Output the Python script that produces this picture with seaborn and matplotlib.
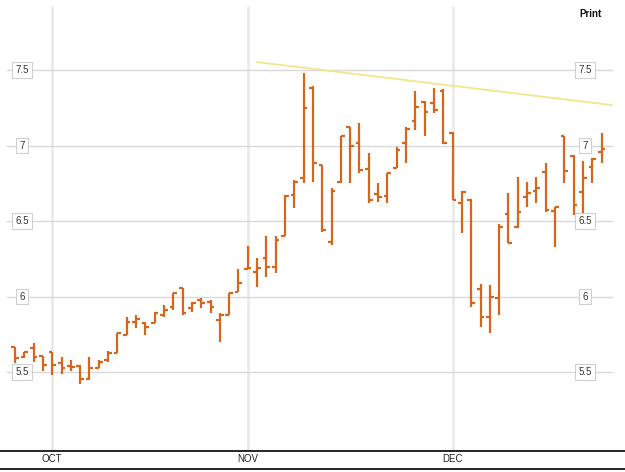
import numpy as np
import pandas as pd
import matplotlib
matplotlib.use("Agg")
import matplotlib.pyplot as plt
from matplotlib.lines import Line2D
import seaborn as sns

# daily OHLC (one entry per trading day)
opens = [5.667, 5.60, 5.657, 5.606, 5.635, 5.558, 5.54, 5.54, 5.452, 5.525,
         5.58, 5.628, 5.745, 5.833, 5.822, 5.822, 5.88, 5.932, 6.054, 5.922,
         5.977, 5.966, 5.844, 5.877, 6.032, 6.18, 6.164, 6.253, 6.197, 6.401,
         6.672, 6.783, 7.379, 6.871, 6.363, 6.76, 7.125, 7.019, 6.842, 6.679,
         6.666, 6.849, 7.019, 7.164, 7.29, 7.279, 7.363, 7.08, 6.617, 6.639,
         6.048, 5.866, 5.988, 6.546, 6.458, 6.661, 6.701, 6.827, 6.568, 7.063,
         6.93, 6.694, 6.86, 6.959]
highs = [5.667, 5.635, 5.694, 5.606, 5.635, 5.597, 5.58, 5.546, 5.597, 5.58,
         5.641, 5.756, 5.862, 5.877, 5.833, 5.90, 5.944, 6.025, 6.054, 5.966,
         5.988, 5.977, 5.889, 6.025, 6.18, 6.334, 6.253, 6.401, 6.401, 6.672,
         6.772, 7.478, 7.394, 6.871, 6.717, 7.063, 7.125, 7.151, 6.948, 6.75,
         6.82, 6.988, 7.125, 7.363, 7.297, 7.379, 7.372, 7.092, 6.701, 6.644,
         6.083, 6.076, 6.48, 6.688, 6.789, 6.76, 6.793, 6.886, 6.595, 7.063,
         6.937, 6.90, 6.915, 7.085]
lows = [5.558, 5.591, 5.568, 5.509, 5.48, 5.485, 5.509, 5.42, 5.447, 5.525,
        5.568, 5.628, 5.745, 5.789, 5.745, 5.822, 5.866, 5.911, 5.877, 5.90,
        5.922, 5.889, 5.701, 5.877, 6.032, 6.18, 6.065, 6.131, 6.158, 6.401,
        6.584, 6.75, 6.76, 6.429, 6.341, 6.754, 6.75, 6.816, 6.617, 6.628,
        6.617, 6.849, 6.882, 7.103, 7.063, 7.217, 7.01, 6.639, 6.419, 5.929,
        5.80, 5.76, 5.877, 6.352, 6.452, 6.591, 6.617, 6.562, 6.33, 6.75,
        6.54, 6.529, 6.75, 6.882]
closes = [5.591, 5.63, 5.60, 5.546, 5.546, 5.525, 5.531, 5.452, 5.525, 5.568,
          5.624, 5.756, 5.833, 5.849, 5.80, 5.889, 5.91, 6.021, 5.889, 5.955,
          5.955, 5.929, 5.877, 6.025, 6.091, 6.19, 6.187, 6.197, 6.374, 6.666,
          6.76, 7.246, 6.882, 6.44, 6.701, 7.063, 6.997, 6.838, 6.639, 6.661,
          6.816, 6.97, 7.107, 7.257, 7.224, 7.235, 7.015, 6.64, 6.694, 5.955,
          5.866, 5.999, 6.458, 6.356, 6.562, 6.683, 6.717, 6.573, 6.591, 6.833,
          6.606, 6.783, 6.909, 6.975]

month_pos = [4, 25, 47]
month_labels = ["OCT", "NOV", "DEC"]
y_ticks = [5.5, 6, 6.5, 7, 7.5]
y_tick_labels = ["5.5", "6", "6.5", "7", "7.5"]

# resistance line
trend_x = [26, 64.1]
trend_y = [7.553, 7.268]

df = pd.DataFrame({"day": np.arange(len(opens)), "open": opens, "high": highs,
                   "low": lows, "close": closes})
trend = pd.DataFrame({"day": trend_x, "price": trend_y})

sns.set_theme(style="white")
plt.rcParams["font.family"] = ["Liberation Sans", "DejaVu Sans"]

bar_col = "#d5661b"
fig = plt.figure(figsize=(6.25, 4.72), dpi=100)
ax = fig.add_axes([0, 21 / 472, 1, 451 / 472])
ax.set_xlim(-1.611, 65.52)
ax.set_ylim(4.977, 7.964)

# grid
for v in month_pos:
    ax.axvline(v, color="#e8e8e8", lw=1.8, ymax=0.985, zorder=0)
for v in y_ticks:
    ax.axhline(v, xmin=0.011, xmax=0.979, color="#d9d9d9", lw=1.0, zorder=0)

# OHLC bars
w = 0.4
ax.vlines(df.day, df.low, df.high, color=bar_col, lw=1.6, zorder=3)
ax.hlines(df.open, df.day - w, df.day, color=bar_col, lw=1.6, zorder=3)
ax.hlines(df.close, df.day, df.day + w, color=bar_col, lw=1.6, zorder=3)

sns.lineplot(data=trend, x="day", y="price", ax=ax, color="#f1e68a", lw=1.3,
             zorder=2)

# boxed price labels on both sides
box = dict(boxstyle="square,pad=0.3", fc="white", ec="#d0d0d0", lw=0.8)
for v, s in zip(y_ticks, y_tick_labels):
    for xf in (22 / 625, 585 / 625):
        ax.text(xf, v, s, transform=ax.get_yaxis_transform(), ha="center",
                va="center", fontsize=7, color="#333333", bbox=box, zorder=5)

ax.set_yticks([])
ax.set_xticks(month_pos)
ax.set_xticklabels(month_labels, fontsize=7, color="#222222")
ax.tick_params(axis="x", length=0, pad=2)
ax.set_xlabel("")
ax.set_ylabel("")
for s in ("top", "left", "right"):
    ax.spines[s].set_visible(False)
ax.spines["bottom"].set_color("black")
ax.spines["bottom"].set_linewidth(1.2)

fig.add_artist(Line2D([0, 1], [3 / 472, 3 / 472], color="black", lw=1.2))
fig.text(590 / 625, 1 - 14 / 472, "Print", fontsize=7, weight="bold",
         ha="center", va="center", color="#111111")

fig.savefig("out.png", dpi=100, facecolor="white")
